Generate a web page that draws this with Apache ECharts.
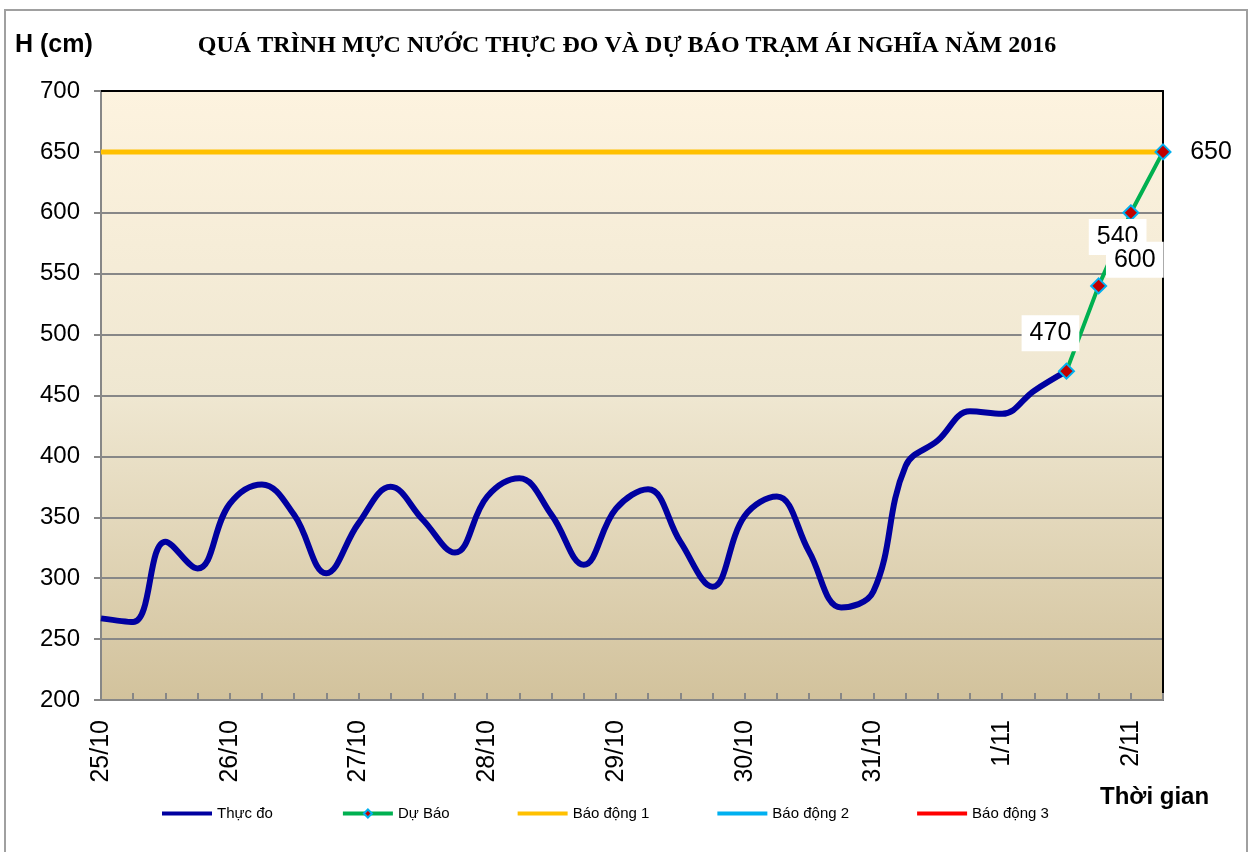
<!DOCTYPE html>
<html>
<head>
<meta charset="utf-8">
<script src="https://cdn.jsdelivr.net/npm/echarts@6/dist/echarts.min.js"></script>
<style>
  html, body { margin: 0; padding: 0; background: #fff; }
  #khung { position: absolute; left: 4px; top: 9px; width: 1240px; height: 870px; border: 2px solid #a0a0a0; }
  #chart { position: absolute; left: 0; top: 0; width: 1254px; height: 852px; }
</style>
</head>
<body>
<div id="khung"></div>
<div id="chart"></div>
<script>
// ngày và giờ quan trắc (4 lần / ngày)
var ngay = ['25/10', '26/10', '27/10', '28/10', '29/10', '30/10', '31/10', '1/11', '2/11']
var gio = ['1h', '7h', '13h', '19h']

// mực nước thực đo (cm)
var thucDo = [267, 264, 330, 308, 361, 377, 352, 304, 345, 375, 348, 321, 367, 382, 352, 311,
  357, 373, 330, 293, 351, 367, 322, 276, 289, 392, 413, 437, 435, 454, 470]
// dự báo, từ điểm cuối thực đo
var duBao = [470, 540, 600, 650]
// mức báo động
var baoDong1 = 650
var baoDong2 = []
var baoDong3 = []

var thoiGian = []
for (var d = 0; d < ngay.length; d++) {
  for (var h = 0; h < gio.length; h++) {
    thoiGian.push(ngay[d] + ' ' + gio[h])
  }
}
thoiGian = thoiGian.slice(0, thucDo.length + duBao.length - 1)

var n = thoiGian.length
var dataThucDo = []
var dataDuBao = []
var dataBD1 = []
for (var i = 0; i < n; i++) {
  dataThucDo.push(i < thucDo.length ? thucDo[i] : null)
  var k = i - (thucDo.length - 1)
  dataDuBao.push(k >= 0 ? duBao[k] : null)
  dataBD1.push(baoDong1)
}

// vị trí nhãn số dự báo
var lechNhan = [[-16, -38], [19, -49], [4, 47], [48, 0]]
dataDuBao = dataDuBao.map(function (v, i) {
  var k = i - (thucDo.length - 1)
  if (v == null) return v
  return { value: v, label: { show: true, offset: lechNhan[k] } }
})

var chart = echarts.init(document.getElementById('chart'))
var xam = '#878787'
var vach = 'path://M0 0 H50 V4 H0 Z'
var option = {
  animation: false,
  textStyle: { fontFamily: 'Liberation Sans, Arial, sans-serif' },
  title: {
    text: 'QUÁ TRÌNH MỰC NƯỚC THỰC ĐO VÀ DỰ BÁO TRẠM ÁI NGHĨA NĂM 2016',
    left: 'center',
    top: 29,
    textStyle: { fontFamily: 'Liberation Serif, Times New Roman, serif', fontWeight: 'bold', fontSize: 24, color: '#000' }
  },
  graphic: [
    { type: 'text', left: 15, top: 33, style: { text: 'H (cm)', font: 'bold 25px Liberation Sans, Arial', fill: '#000' } },
    { type: 'text', left: 1100, top: 785, style: { text: 'Thời gian', font: 'bold 24px Liberation Sans, Arial', fill: '#000' } }
  ],
  legend: {
    left: 157,
    top: 801,
    itemWidth: 50,
    itemHeight: 10,
    itemGap: 68,
    lineStyle: { width: 4 },
    textStyle: { fontSize: 15, color: '#000' },
    data: [
      { name: 'Thực đo', icon: vach },
      { name: 'Dự Báo' },
      { name: 'Báo động 1', icon: vach },
      { name: 'Báo động 2', icon: vach },
      { name: 'Báo động 3', icon: vach }
    ]
  },
  grid: {
    left: 101, right: 91, top: 91, bottom: 152,
    show: true,
    borderWidth: 0,
    backgroundColor: new echarts.graphic.LinearGradient(0, 0, 0, 1, [
      { offset: 0, color: '#FDF3DF' },
      { offset: 0.5, color: '#EFE7D1' },
      { offset: 1, color: '#D2C29C' }
    ])
  },
  xAxis: [{
    type: 'category',
    data: thoiGian,
    boundaryGap: false,
    axisLine: { lineStyle: { color: xam, width: 2 } },
    axisTick: { show: true, inside: true, length: 7, interval: 0, lineStyle: { color: xam, width: 2 } },
    axisLabel: {
      interval: 3,
      rotate: 90,
      margin: 20,
      fontSize: 25,
      color: '#000',
      formatter: function (v) { return v.split(' ')[0] }
    },
    splitLine: { show: false }
  }, {
    type: 'category',
    position: 'top',
    data: thoiGian,
    boundaryGap: false,
    axisLine: { lineStyle: { color: '#000', width: 2 } },
    axisTick: { show: false },
    axisLabel: { show: false }
  }],
  yAxis: [{
    type: 'value',
    min: 200,
    max: 700,
    interval: 50,
    axisLine: { show: true, lineStyle: { color: xam, width: 2 } },
    axisTick: { show: true, length: 7, lineStyle: { color: xam, width: 2 } },
    axisLabel: { fontSize: 24, color: '#000', margin: 21 },
    splitLine: { lineStyle: { color: xam, width: 2 } }
  }, {
    type: 'value',
    position: 'right',
    min: 200,
    max: 700,
    interval: 50,
    axisLine: { show: true, lineStyle: { color: '#000', width: 2 } },
    axisTick: { show: false },
    axisLabel: { show: false },
    splitLine: { show: false }
  }],
  series: [{
    name: 'Thực đo',
    type: 'line',
    data: dataThucDo,
    smooth: 0.4,
    symbol: 'none',
    z: 2,
    lineStyle: { color: '#0000A0', width: 6 },
    itemStyle: { color: '#0000A0' }
  }, {
    name: 'Dự Báo',
    type: 'line',
    data: dataDuBao,
    symbol: 'diamond',
    symbolSize: 15,
    showAllSymbol: true,
    z: 4,
    lineStyle: { color: '#00B050', width: 4 },
    itemStyle: { color: '#C00000', borderColor: '#00B0F0', borderWidth: 2 },
    label: {
      show: false,
      position: 'inside',
      fontSize: 25,
      color: '#000',
      backgroundColor: '#fff',
      padding: [7, 8, 4, 8]
    }
  }, {
    name: 'Báo động 1',
    type: 'line',
    data: dataBD1,
    symbol: 'none',
    z: 3,
    lineStyle: { color: '#FFC000', width: 5 },
    itemStyle: { color: '#FFC000' }
  }, {
    name: 'Báo động 2',
    type: 'line',
    data: baoDong2,
    symbol: 'none',
    lineStyle: { color: '#00B0F0', width: 5 },
    itemStyle: { color: '#00B0F0' }
  }, {
    name: 'Báo động 3',
    type: 'line',
    data: baoDong3,
    symbol: 'none',
    lineStyle: { color: '#FF0000', width: 5 },
    itemStyle: { color: '#FF0000' }
  }]
}
chart.setOption(option)
</script>
</body>
</html>
